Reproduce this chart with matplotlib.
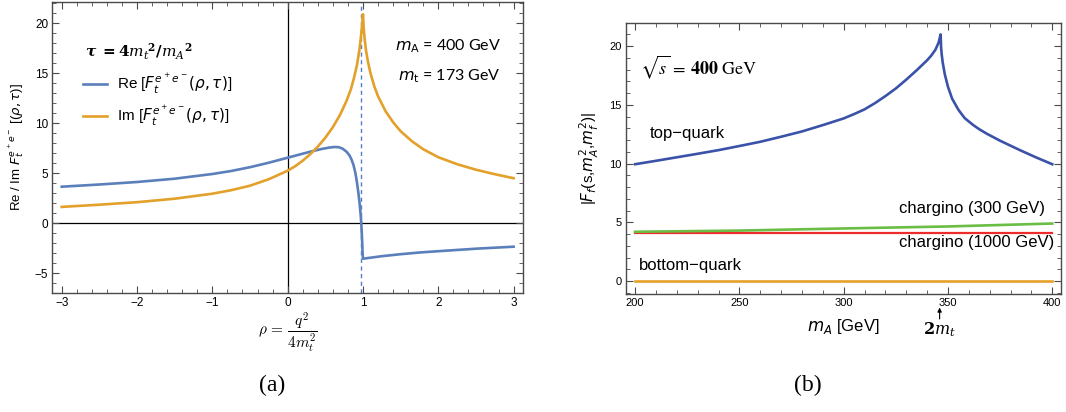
import numpy as np
import matplotlib
matplotlib.use("Agg")
import matplotlib.pyplot as plt
from matplotlib.ticker import MultipleLocator

plt.rcParams['font.family'] = ['Liberation Sans', 'DejaVu Sans']
plt.rcParams['mathtext.fontset'] = 'dejavusans'

# panel (a): real / imaginary parts vs rho
rho_re = [-3, -2.5, -2, -1.5, -1, -0.75, -0.5, -0.25, 0, 0.15, 0.3, 0.45, 0.55, 0.62, 0.68,
          0.73, 0.78, 0.82, 0.85, 0.875, 0.9, 0.92, 0.94, 0.955, 0.97, 0.98, 0.99, 0.995,
          1.0, 1.1, 1.25, 1.5, 1.75, 2.0, 2.5, 3.0]
re_vals = [3.65, 3.87, 4.12, 4.45, 4.92, 5.22, 5.6, 6.05, 6.55, 6.85, 7.15, 7.42, 7.56, 7.62, 7.6,
           7.45, 7.16, 6.8, 6.33, 5.8, 5.0, 4.1, 3.0, 2.0, 0.8, -0.33, -1.9, -3.0,
           -3.55, -3.45, -3.3, -3.1, -2.93, -2.8, -2.55, -2.35]
rho_im = [-3, -2.5, -2, -1.5, -1, -0.75, -0.5, -0.25, 0, 0.1, 0.2, 0.3, 0.4, 0.5, 0.6, 0.7,
          0.78, 0.84, 0.88, 0.92, 0.95, 0.97, 0.99, 1.0, 1.01, 1.02, 1.04, 1.07, 1.1, 1.15,
          1.2, 1.3, 1.4, 1.5, 1.65, 1.8, 2.0, 2.25, 2.5, 2.75, 3.0]
im_vals = [1.63, 1.85, 2.1, 2.45, 2.95, 3.3, 3.75, 4.4, 5.25, 5.7, 6.25, 6.9, 7.65, 8.55, 9.6, 10.9,
           12.2, 13.4, 14.5, 15.8, 17.2, 18.4, 19.9, 20.9, 19.5, 18.6, 17.3, 16.0, 15.0, 13.7,
           12.7, 11.2, 10.1, 9.2, 8.2, 7.4, 6.6, 5.9, 5.35, 4.9, 4.5]
rho_threshold = 0.98

# panel (b): |F| vs m_A
mA_top = [200, 210, 220, 230, 240, 250, 260, 270, 280, 290, 300, 305, 310, 315, 320, 325, 330,
          335, 340, 342, 344, 345.5, 346.5, 346.7, 347, 347.5, 348.5, 350, 352, 355, 358, 362,
          365, 368.6, 375, 384.5, 392, 400]
F_top = [9.95, 10.24, 10.54, 10.84, 11.15, 11.5, 11.86, 12.29, 12.74, 13.28, 13.85, 14.22, 14.62,
         15.15, 15.75, 16.4, 17.15, 17.95, 18.8, 19.2, 19.7, 20.3, 21.0, 19.93, 19.3, 18.6, 17.6,
         16.55, 15.53, 14.59, 13.88, 13.3, 12.93, 12.55, 11.95, 11.15, 10.55, 9.95]
mA_ch = [200, 250, 300, 350, 400]
F_ch300 = [4.2, 4.3, 4.48, 4.65, 4.9]
F_ch1000 = [4.1, 4.1, 4.1, 4.1, 4.1]
F_bottom = [0, 0, 0, 0, 0]
two_mt = 346

frame_col = '#4a4a4a'

def style_axes(ax):
    for s in ax.spines.values():
        s.set_color(frame_col)
        s.set_linewidth(1.0)
    ax.tick_params(which='both', direction='in', top=True, right=True, color=frame_col,
                   labelsize=8.5, pad=3)
    ax.tick_params(which='major', length=5, width=0.8)
    ax.tick_params(which='minor', length=3, width=0.6)

fig = plt.figure(figsize=(10.66, 4.12), dpi=100)

# ---- (a)
ax1 = fig.add_axes([52.3/1066, 1-292.7/412, (523.0-52.3)/1066, (292.7-1.7)/412])
ax1.axhline(0, color='black', lw=0.9, zorder=1)
ax1.axvline(0, color='black', lw=0.9, zorder=1)
ax1.axvline(rho_threshold, color='#4f7fd0', lw=1.0, ls=(0, (3, 2.5)), zorder=2)
ax1.plot(rho_re, re_vals, color='#5b7fbb', lw=1.9, zorder=3)
ax1.plot(rho_im, im_vals, color='#e3a02a', lw=1.9, zorder=3)
ax1.set_xlim(-3.125, 3.125)
ax1.set_ylim(-6.95, 22.15)
ax1.xaxis.set_major_locator(MultipleLocator(1))
ax1.xaxis.set_minor_locator(MultipleLocator(0.2))
ax1.yaxis.set_major_locator(MultipleLocator(5))
ax1.yaxis.set_minor_locator(MultipleLocator(1))
style_axes(ax1)
ax1.set_xlabel(r'$\rho\, =\, \dfrac{q^2}{4m_t^2}$', fontsize=11, math_fontfamily='cm', labelpad=1)
ax1.set_ylabel(r'Re / Im $F_t^{e^+e^-}$ [($\rho,\tau$)]', fontsize=9.5, labelpad=6)

ax1.text(-2.69, 17.16, r'$\boldsymbol{\tau}$ $\mathbf{=4}$$\boldsymbol{m_t}^{\mathbf{2}}$$\mathbf{/}$$\boldsymbol{m_A}^{\mathbf{2}}$',
         fontsize=11, math_fontfamily='dejavuserif', va='center', ha='left')
ax1.plot([-2.72, -2.40], [13.9, 13.9], color='#5b7fbb', lw=1.9)
ax1.plot([-2.72, -2.40], [10.75, 10.75], color='#e3a02a', lw=1.9)
ax1.text(-2.27, 13.9, r'Re [$F_t^{e^+e^-}(\rho,\tau)$]', fontsize=11, va='center', ha='left')
ax1.text(-2.27, 10.75, r'Im [$F_t^{e^+e^-}(\rho,\tau)$]', fontsize=11, va='center', ha='left')
ax1.text(2.83, 17.66, r'$m_\mathrm{A}$ = 400 GeV', fontsize=11.5, va='center', ha='right',
         family=['Lato', 'DejaVu Sans'])
ax1.text(2.83, 14.66, r'$m_\mathrm{t}$ = 173 GeV', fontsize=11.5, va='center', ha='right',
         family=['Lato', 'DejaVu Sans'])

# ---- (b)
ax2 = fig.add_axes([625.7/1066, 1-294/412, (1061-625.7)/1066, (294-22.7)/412])
ax2.plot(mA_ch, F_bottom, color='#e6a12a', lw=1.9, zorder=3)
ax2.plot(mA_ch, F_ch1000, color='#ee2a2a', lw=1.6, zorder=3)
ax2.plot(mA_ch, F_ch300, color='#6abd45', lw=1.9, zorder=3)
ax2.plot(mA_top, F_top, color='#3a52a8', lw=1.9, zorder=3)
ax2.set_xlim(195.5, 404.2)
ax2.set_ylim(-1.1, 22.0)
ax2.xaxis.set_major_locator(MultipleLocator(50))
ax2.xaxis.set_minor_locator(MultipleLocator(10))
ax2.yaxis.set_major_locator(MultipleLocator(5))
ax2.yaxis.set_minor_locator(MultipleLocator(1))
style_axes(ax2)
ax2.tick_params(labelsize=8)
ax2.set_xlabel(r'$m_A$ [GeV]', fontsize=12, labelpad=6)
ax2.set_ylabel(r'|$F_f$(s,$m_A^2$,$m_f^2$)|', fontsize=11, labelpad=6)

ax2.text(202.4, 18.24, r'$\sqrt{s}\,=\,\mathbf{400}\ \mathrm{GeV}$', fontsize=13,
         math_fontfamily='stix', va='center', ha='left')
ax2.text(207.2, 12.57, 'top\u2212quark', fontsize=12, va='center', ha='left')
ax2.text(396.5, 6.18, 'chargino (300 GeV)', fontsize=12, va='center', ha='right')
ax2.text(400.8, 3.26, 'chargino (1000 GeV)', fontsize=12, va='center', ha='right')
ax2.text(201.9, 1.36, 'bottom\u2212quark', fontsize=12, va='center', ha='left')
ax2.annotate('', xy=(two_mt, -0.05), xycoords=('data', 'axes fraction'),
             xytext=(two_mt, -0.092), textcoords=('data', 'axes fraction'),
             arrowprops=dict(arrowstyle='-|>', color='black', lw=0.8, mutation_scale=6,
                             shrinkA=0, shrinkB=0))
ax2.text(two_mt, -0.098, r'$\mathbf{2}\boldsymbol{m_t}$', fontsize=11.5, math_fontfamily='dejavuserif',
         transform=ax2.get_xaxis_transform(), ha='center', va='top')

fig.text(272/1066, 1-385/412, '(a)', fontsize=17, family='Liberation Serif', ha='center', va='center')
fig.text(808/1066, 1-385/412, '(b)', fontsize=17, family='Liberation Serif', ha='center', va='center')

fig.savefig('out.png', dpi=100)
